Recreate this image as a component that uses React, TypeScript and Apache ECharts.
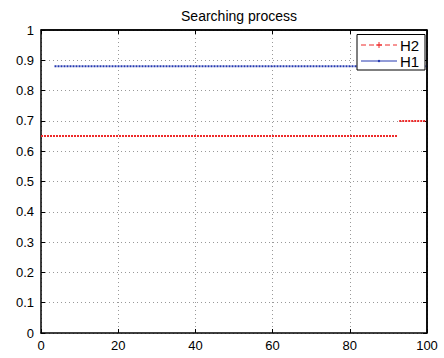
import React, { useEffect, useRef } from "react";
import * as echarts from "echarts";

const title = "Searching process";
const xTicks = [0, 20, 40, 60, 80, 100];
const yTicks = [0, 0.1, 0.2, 0.3, 0.4, 0.5, 0.6, 0.7, 0.8, 0.9, 1];
// H1: constant best value
const h1X = [3.5, 100];
const h1Y = [0.88, 0.88];
// H2: two plateaus
const h2aX = [0, 92.3];
const h2aY = [0.65, 0.65];
const h2bX = [92.8, 100];
const h2bY = [0.7, 0.7];
const seriesNames = ["H2", "H1"];

const FONT = "Liberation Sans, Arial, sans-serif";
const RED = "#ee2a2a";
const BLUE = "#2438b0";
const G = { left: 41, right: 17, top: 30, bottom: 25 };
const W = 444;
const H = 358;

export default function App() {
  const ref = useRef<HTMLDivElement>(null);
  useEffect(() => {
    if (!ref.current) return;
    const chart = echarts.init(ref.current, null, { renderer: "svg" });
    const zip = (xs: number[], ys: number[]) => xs.map((x, i) => [x, ys[i]]);
    const axisCommon = {
      type: "value" as const,
      min: 0,
      axisLine: { show: true, onZero: false, lineStyle: { color: "#000", width: 1.5 } },
      axisTick: { show: true, inside: true, length: 4, lineStyle: { color: "#000", width: 1 } },
    };
    chart.setOption({
      animation: false,
      backgroundColor: "#fff",
      title: {
        text: title,
        left: 234,
        textAlign: "center",
        top: 4,
        textStyle: { fontFamily: FONT, fontSize: 14, fontWeight: "normal", color: "#000" },
      },
      grid: { ...G, show: false },
      xAxis: [
        {
          ...axisCommon,
          max: 100,
          interval: 20,
          position: "bottom",
          axisLabel: { fontFamily: FONT, fontSize: 13, color: "#000", margin: 6 },
          splitLine: { show: true, lineStyle: { type: [1, 3], color: "#999", width: 1 } },
        },
        {
          ...axisCommon,
          max: 100,
          interval: 20,
          position: "top",
          axisLabel: { show: false },
          splitLine: { show: false },
        },
      ],
      yAxis: [
        {
          ...axisCommon,
          max: 1,
          interval: 0.1,
          position: "left",
          axisLabel: {
            fontFamily: FONT,
            fontSize: 13,
            color: "#000",
            margin: 7,
            formatter: (v: number) => String(Math.round(v * 10) / 10),
          },
          splitLine: { show: true, lineStyle: { type: [1, 3], color: "#999", width: 1 } },
        },
        {
          ...axisCommon,
          max: 1,
          interval: 0.1,
          position: "right",
          axisLabel: { show: false },
          splitLine: { show: false },
        },
      ],
      series: [
        {
          name: seriesNames[0],
          type: "line",
          data: zip(h2aX, h2aY),
          showSymbol: false,
          lineStyle: { color: RED, width: 2, type: [2, 1] },
        },
        {
          name: seriesNames[0] + "b",
          type: "line",
          data: zip(h2bX, h2bY),
          showSymbol: false,
          lineStyle: { color: RED, width: 2, type: [2, 1] },
        },
        {
          name: seriesNames[1],
          type: "line",
          data: zip(h1X, h1Y),
          showSymbol: false,
          lineStyle: { color: BLUE, width: 2, type: [2, 1] },
        },
      ],
      graphic: [
        {
          type: "line",
          shape: { x1: G.left, y1: G.top, x2: W - G.right, y2: G.top },
          style: { stroke: "#000", lineWidth: 1.5 },
          silent: true,
          z: 90,
        },
        {
          type: "line",
          shape: { x1: W - G.right, y1: G.top, x2: W - G.right, y2: H - G.bottom },
          style: { stroke: "#000", lineWidth: 1.5 },
          silent: true,
          z: 90,
        },
        {
          type: "rect",
          shape: { x: 357, y: 34.5, width: 68, height: 35.5 },
          style: { fill: "#fff", stroke: "#000", lineWidth: 1 },
          z: 100,
        },
        {
          type: "line",
          shape: { x1: 361, y1: 45, x2: 397, y2: 45 },
          style: { stroke: RED, lineWidth: 1, lineDash: [5, 3] },
          z: 101,
        },
        {
          type: "line",
          shape: { x1: 376, y1: 45, x2: 382, y2: 45 },
          style: { stroke: RED, lineWidth: 1 },
          z: 101,
        },
        {
          type: "line",
          shape: { x1: 379, y1: 42, x2: 379, y2: 48 },
          style: { stroke: RED, lineWidth: 1 },
          z: 101,
        },
        {
          type: "line",
          shape: { x1: 361, y1: 61, x2: 397, y2: 61 },
          style: { stroke: BLUE, lineWidth: 1 },
          z: 101,
        },
        {
          type: "circle",
          shape: { cx: 379, cy: 61, r: 1.2 },
          style: { fill: BLUE },
          z: 101,
        },
        {
          type: "text",
          x: 400,
          y: 45,
          style: { text: seriesNames[0], font: "15px " + FONT, fill: "#000", verticalAlign: "middle" },
          z: 101,
        },
        {
          type: "text",
          x: 400,
          y: 61,
          style: { text: seriesNames[1], font: "15px " + FONT, fill: "#000", verticalAlign: "middle" },
          z: 101,
        },
      ],
    });
    return () => chart.dispose();
  }, []);
  return <div ref={ref} style={{ width: W, height: H, position: "absolute", left: 0, top: 0 }} />;
}
